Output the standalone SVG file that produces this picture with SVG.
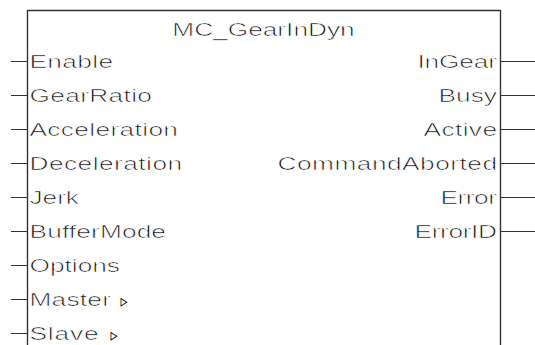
<svg xmlns="http://www.w3.org/2000/svg" width="535" height="345" viewBox="0 0 535 345">
<style>
.ln{stroke:#333;stroke-width:1.4;fill:none}
.pin{stroke:#333;stroke-width:1.2;fill:none}
text{font-family:"Liberation Sans",Arial,sans-serif;font-size:18px;fill:#111;stroke:#fff;stroke-width:0.6px}
.r{text-anchor:end}
.tri{font-family:"DejaVu Sans",sans-serif;font-size:18px;stroke:none;fill:#000}
</style>
<rect width="535" height="345" fill="#fff"/>
<g id="block">
<path class="ln" d="M27.5,345 V10.5 H500.5 V345"/>
<text id="title" transform="translate(263.5,36) scale(1.46,1)" text-anchor="middle" textLength="125" lengthAdjust="spacing">MC_GearInDyn</text>
</g>
<g id="connectors">
<path class="pin" d="M11,61.5H27M11,95.5H27M11,129.5H27M11,163.5H27M11,197.5H27M11,231.5H27M11,265.5H27M11,299.5H27M11,333.5H27"/>
<path class="pin" d="M501,61.5H535M501,95.5H535M501,129.5H535M501,163.5H535M501,197.5H535M501,231.5H535"/>
</g>
<g id="inputs">
<g id="in-enable"><text transform="translate(29.5,68) scale(1.46,1)" textLength="57.2" lengthAdjust="spacing">Enable</text></g>
<g id="in-gearratio"><text transform="translate(29.5,102) scale(1.46,1)" textLength="83.9" lengthAdjust="spacing">GearRatio</text></g>
<g id="in-acceleration"><text transform="translate(29.5,136) scale(1.46,1)" textLength="101.7" lengthAdjust="spacing">Acceleration</text></g>
<g id="in-deceleration"><text transform="translate(29.5,170) scale(1.46,1)" textLength="104.5" lengthAdjust="spacing">Deceleration</text></g>
<g id="in-jerk"><text transform="translate(29.5,204) scale(1.46,1)" textLength="33.9" lengthAdjust="spacing">Jerk</text></g>
<g id="in-buffermode"><text transform="translate(29.5,238) scale(1.46,1)" textLength="93.5" lengthAdjust="spacing">BufferMode</text></g>
<g id="in-options"><text transform="translate(29.5,272) scale(1.46,1)" textLength="62" lengthAdjust="spacing">Options</text></g>
<g id="in-master"><text transform="translate(29.5,306) scale(1.46,1)" textLength="55.8" lengthAdjust="spacing">Master</text><text class="tri" transform="translate(120.6,306.8) scale(0.78,1)">▹</text></g>
<g id="in-slave"><text transform="translate(29.5,340) scale(1.46,1)" textLength="47.3" lengthAdjust="spacing">Slave</text><text class="tri" transform="translate(110.6,340.6) scale(0.78,1)">▹</text></g>
</g>
<g id="outputs">
<g id="out-ingear"><text class="r" transform="translate(497,68) scale(1.46,1)" textLength="54.5" lengthAdjust="spacing">InGear</text></g>
<g id="out-busy"><text class="r" transform="translate(497,102) scale(1.46,1)" textLength="40.1" lengthAdjust="spacing">Busy</text></g>
<g id="out-active"><text class="r" transform="translate(497,136) scale(1.46,1)" textLength="50.3" lengthAdjust="spacing">Active</text></g>
<g id="out-commandaborted"><text class="r" transform="translate(497,170) scale(1.46,1)" textLength="150.3" lengthAdjust="spacing">CommandAborted</text></g>
<g id="out-error"><text class="r" transform="translate(497,204) scale(1.46,1)" textLength="38.7" lengthAdjust="spacing">Error</text></g>
<g id="out-errorid"><text class="r" transform="translate(497,238) scale(1.46,1)" textLength="56.5" lengthAdjust="spacing">ErrorID</text></g>
</g>
</svg>
